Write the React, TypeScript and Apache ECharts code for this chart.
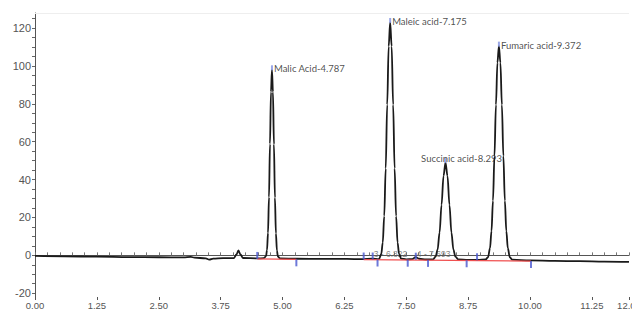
import React, { useEffect, useRef } from "react";
import * as echarts from "echarts";

// Chromatogram trace (retention time in min, signal)
const traceTimes = [
  0, 0.6, 1.25, 1.9, 2.5, 3.0, 3.15, 3.22, 3.45, 3.52, 3.6, 3.8, 4.02, 4.07, 4.11, 4.15, 4.2, 4.5, 4.62,
  4.667, 4.687, 4.707, 4.727, 4.747, 4.767, 4.787, 4.807, 4.827, 4.847, 4.867, 4.887, 4.907, 4.95,
  5.3, 5.8, 6.3, 6.6, 6.82, 6.95,
  6.995, 7.025, 7.055, 7.085, 7.115, 7.145, 7.175, 7.205, 7.235, 7.265, 7.295, 7.325, 7.355, 7.395,
  7.5, 7.62, 7.69, 7.76, 7.9, 8.043,
  8.093, 8.133, 8.173, 8.213, 8.253, 8.293, 8.333, 8.373, 8.413, 8.453, 8.493, 8.55,
  8.75, 8.95, 9.102,
  9.152, 9.192, 9.222, 9.252, 9.282, 9.312, 9.342, 9.372, 9.402, 9.432, 9.462, 9.492, 9.522, 9.552, 9.592, 9.642,
  10.0, 10.5, 11.0, 11.5, 12.0,
];
const traceValues = [
  -0.3, -0.5, -0.7, -0.9, -1.0, -1.1, -0.8, -1.2, -1.6, -2.3, -1.7, -1.5, -1.4, 0.5, 2.6, 0.5, -1.4, -1.6, -1.5,
  -0.5, 2.8, 11.8, 30.7, 58.8, 86.3, 98, 86.3, 58.6, 30.5, 11.6, 2.6, -0.6, -1.6,
  -1.8, -1.9, -1.9, -2.0, -1.8, -2.0,
  0.7, 6.7, 20.7, 45.9, 79.6, 110.4, 123, 110.4, 79.6, 45.9, 20.7, 6.7, 0.7, -1.7,
  -2.1, -2.0, -0.9, -1.8, -2.2, -2.1,
  -0.7, 3.0, 12.0, 26.7, 42.0, 49, 42.0, 26.7, 12.0, 3.0, -0.7, -2.2,
  -2.4, -2.4, -2.2,
  -1.0, 3.8, 12.8, 28.9, 52.5, 79.5, 101.8, 110.5, 101.8, 79.5, 52.5, 28.9, 12.8, 3.8, -1.0, -2.3,
  -2.7, -2.9, -3.1, -3.3, -3.5,
];

// Integration baselines (red)
const baseA_t = [4.49, 5.28];
const baseA_v = [-1.9, -2.1];
const baseB_t = [6.64, 10.02];
const baseB_v = [-2.3, -3.0];

// Integration event markers
const upMarkTimes = [4.49, 6.64, 6.822, 7.693, 8.93];
const upMarkValues = [-1.9, -2.2, -2.2, -2.3, -2.6];
const downMarkTimes = [5.28, 6.92, 7.53, 7.94, 8.72, 10.02];
const downMarkValues = [-2.1, -2.2, -2.3, -2.4, -2.6, -3.0];

// Named peaks
const peakNames = ["Malic Acid-4.787", "Maleic acid-7.175", "Succinic acid-8.293", "Fumaric acid-9.372"];
const peakTimes = [4.787, 7.175, 8.293, 9.372];
const peakHeights = [98, 123, 49, 110.5];

// Minor peaks
const minorNames = ["3 - 6.822", "4 - 7.693"];
const minorTimes = [6.822, 7.693];
const minorValues = [-2.2, -2.3];

// Axis labels/ticks
const xLabels = [0, 1.25, 2.5, 3.75, 5, 6.25, 7.5, 8.75, 10, 11.25, 12];
const yLabels = [-20, 0, 20, 40, 60, 80, 100, 120];

export default function App() {
  const ref = useRef<HTMLDivElement>(null);
  useEffect(() => {
    if (!ref.current) return;
    const chart = echarts.init(ref.current, null, { renderer: "svg" });
    const xMinor: number[] = [];
    for (let i = 0; i <= 48; i++) xMinor.push(i * 0.25);
    const yMinor: number[] = [];
    for (let v = -20; v <= 125; v += 5) yMinor.push(v);

    const axisFont = "Liberation Sans, Arial, sans-serif";
    const peakFont = "Lato, sans-serif";
    const succIdx = 2;

    chart.setOption({
      animation: false,
      backgroundColor: "#ffffff",
      grid: { left: 35, right: 3, top: 13, bottom: 12, containLabel: false, outerBoundsMode: "none" },
      xAxis: [
        {
          type: "value",
          min: 0,
          max: 12,
          axisLine: { show: true, lineStyle: { color: "#555", width: 1 } },
          axisTick: { show: true, inside: true, length: 3, customValues: xMinor, lineStyle: { color: "#777" } },
          axisLabel: {
            show: true,
            customValues: xLabels,
            formatter: (v: number) => v.toFixed(2),
            fontSize: 9.5,
            color: "#555",
            fontFamily: axisFont,
            margin: 3,
            hideOverlap: false,
          },
          splitLine: { show: false },
        },
        {
          type: "value",
          min: 0,
          max: 12,
          position: "bottom",
          axisLine: { show: false },
          axisTick: { show: true, inside: false, length: 3, customValues: xLabels, lineStyle: { color: "#555" } },
          axisLabel: { show: false },
          splitLine: { show: false },
        },
      ],
      yAxis: {
        type: "value",
        min: -22,
        max: 128,
        axisLine: { show: true, lineStyle: { color: "#555", width: 1 } },
        axisTick: { show: true, length: 3, customValues: yMinor, lineStyle: { color: "#666" } },
        axisLabel: {
          customValues: yLabels,
          fontSize: 11,
          color: "#555",
          fontFamily: axisFont,
          margin: 4,
        },
        splitLine: { show: false },
      },
      series: [
        {
          type: "line",
          name: "frame",
          data: [],
          silent: true,
          markLine: {
            silent: true,
            symbol: "none",
            label: { show: false },
            lineStyle: { color: "#eeeeee", width: 1, type: "solid" },
            data: [{ yAxis: 128 }],
          },
        },
        {
          type: "line",
          name: "signal",
          data: traceTimes.map((t, i) => [t, traceValues[i]]),
          showSymbol: false,
          smooth: 0.35,
          smoothMonotone: "x",
          lineStyle: { color: "#1a1a1a", width: 1.8 },
          z: 2,
        },
        {
          type: "line",
          name: "baseA",
          data: baseA_t.map((t, i) => [t, baseA_v[i]]),
          showSymbol: false,
          lineStyle: { color: "#f05050", width: 1.3 },
          z: 3,
        },
        {
          type: "line",
          name: "baseB",
          data: baseB_t.map((t, i) => [t, baseB_v[i]]),
          showSymbol: false,
          lineStyle: { color: "#f05050", width: 1.3 },
          z: 3,
        },
        {
          type: "scatter",
          name: "up",
          data: upMarkTimes.map((t, i) => [t, upMarkValues[i]]),
          symbol: "rect",
          symbolSize: [2, 7],
          symbolOffset: [0, -3.5],
          itemStyle: { color: "#4a58d0" },
          z: 4,
        },
        {
          type: "scatter",
          name: "down",
          data: downMarkTimes.map((t, i) => [t, downMarkValues[i]]),
          symbol: "rect",
          symbolSize: [2, 7],
          symbolOffset: [0, 3.5],
          itemStyle: { color: "#4a58d0" },
          z: 4,
        },
        {
          type: "scatter",
          name: "peakTops",
          data: peakTimes.map((t, i) => [t, peakHeights[i]]),
          symbol: "rect",
          symbolSize: [2, 5],
          symbolOffset: [0, -2],
          itemStyle: { color: "#8090e0" },
          z: 5,
        },
        {
          type: "scatter",
          name: "peakLabels",
          symbolSize: 0,
          data: peakTimes.map((t, i) => ({
            value: [t, peakHeights[i]],
            label:
              i === succIdx
                ? { show: true, position: "top", distance: 0, offset: [16, 1], formatter: peakNames[i] }
                : { show: true, position: "right", distance: 2, offset: [0, -1], formatter: peakNames[i] },
          })),
          label: { fontSize: 9.5, color: "#222", fontFamily: peakFont },
          z: 6,
        },
        {
          type: "scatter",
          name: "minorLabels",
          symbolSize: 0,
          data: minorTimes.map((t, i) => ({
            value: [t, minorValues[i]],
            label: { show: true, position: "right", distance: 1, offset: [0, -6], formatter: minorNames[i] },
          })),
          label: { fontSize: 8.5, color: "#666", fontFamily: axisFont },
          z: 1,
        },
      ],
    });
    return () => chart.dispose();
  }, []);
  return (
    <div style={{ position: "absolute", left: 0, top: 0 }}>
      <div ref={ref} style={{ width: 632, height: 309 }} />
    </div>
  );
}
